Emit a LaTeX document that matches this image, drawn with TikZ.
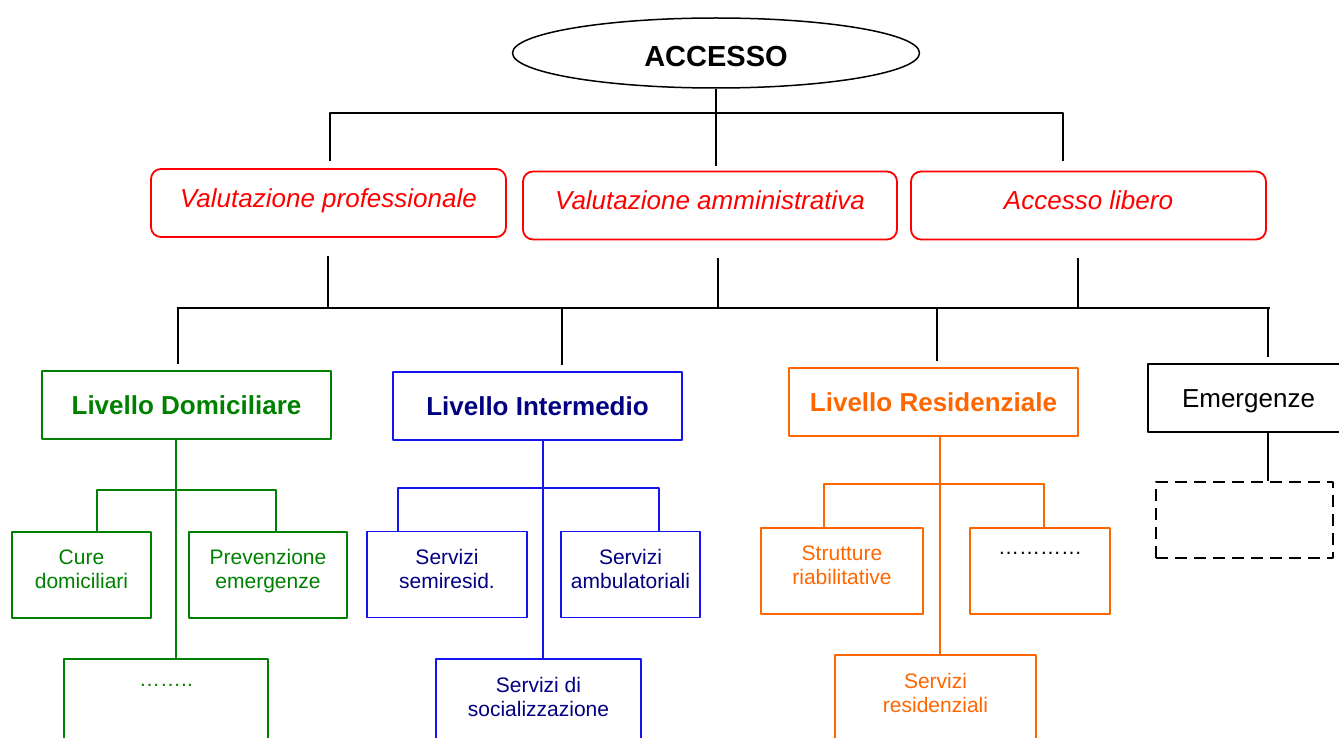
\documentclass[tikz,border=0pt]{standalone}
\usepackage{fontspec}
\setmainfont{Liberation Sans}
\usetikzlibrary{shapes.geometric}
\definecolor{vgreen}{RGB}{0,128,0}
\definecolor{vblue}{RGB}{20,20,240}
\definecolor{vnavy}{RGB}{0,0,128}
\definecolor{vorange}{RGB}{255,102,0}
\definecolor{vred}{RGB}{255,0,0}
\begin{document}
\begin{tikzpicture}[x=1pt,y=-1pt,line join=round,line width=1.5pt,
	valbox/.style={draw=vred,rounded corners=10pt,line width=1.8pt,text=vred,font=\fontsize{26}{30}\selectfont\itshape,minimum height=68pt,text height=19pt,text depth=10pt},
	lvlbox/.style={draw,line width=1.8pt,minimum width=289pt,minimum height=68pt,font=\fontsize{26}{30}\selectfont\bfseries},
	subbox/.style={draw,line width=1.8pt,font=\fontsize{21}{24}\selectfont,align=center,inner sep=0pt,minimum height=86pt}]
		\useasboundingbox (0,0) rectangle (1339,738);
		\clip (0,0) rectangle (1339,738);
		% accesso
		\node[ellipse,draw,minimum width=407pt,minimum height=70pt,inner sep=0pt,text height=27pt,font=\fontsize{29}{33}\selectfont\bfseries] (acc) at (716,53) {ACCESSO};
		\node[valbox,minimum width=355pt] (vp) at (328.5,203) {Valutazione professionale};
		\node[valbox,minimum width=374pt] (va) at (710,205.5) {Valutazione amministrativa};
		\node[valbox,minimum width=355pt] (al) at (1088.5,205.5) {Accesso libero};
		\draw (acc.south) -- ++(0,77);
		\draw[line width=2pt,shorten <=7pt,shorten >=10pt] (vp.north -| 330,0) |- (716,113) -| (al.north -| 1063,0);
		% livelli
		\node[lvlbox,draw=vgreen,text=vgreen] (ld) at (186.5,405) {Livello Domiciliare};
		\node[lvlbox,draw=vblue,text=vnavy] (li) at (537.5,406) {Livello Intermedio};
		\node[lvlbox,draw=vorange,text=vorange] (lr) at (933.5,402) {Livello Residenziale};
		\node[lvlbox,font=\fontsize{26}{30}\selectfont,text height=25pt,minimum width=201pt] (em) at (1248.5,398) {Emergenze};
		\foreach \n/\x in {vp/328,va/718,al/1078}\draw (\n.south -| \x,0) ++(0,18) -- (\x,308);
		\draw[line width=2pt] (177,308) -- (1270,308);
		\foreach \n/\x in {ld/178,li/562,lr/937,em/1268}\draw[shorten >=6pt] (\x,308) -- (\n.north -| \x,0);
		% domiciliare
		\node[subbox,draw=vgreen,text=vgreen,minimum width=139pt] (cd) at (81.5,575) {Cure\\domiciliari\\[-12pt]\mbox{}};
		\node[subbox,draw=vgreen,text=vgreen,minimum width=158pt] (pe) at (268,575) {Prevenzione\\emergenze\\[-12pt]\mbox{}};
		\node[subbox,draw=vgreen,text=vgreen,minimum width=204pt,minimum height=100pt,anchor=north] (gd) at (166,658) {……..\\\mbox{}\\\mbox{}};
		\draw[vgreen] (ld.south -| 176,0) -- (gd.north -| 176,0);
		\draw[vgreen] (cd.north -| 97,0) |- (276,490) -- (pe.north -| 276,0);
		% intermedio
		\node[subbox,draw=vblue,text=vnavy,minimum width=160pt] (ss) at (447,574.5) {Servizi\\semiresid.\\[-12pt]\mbox{}};
		\node[subbox,draw=vblue,text=vnavy,minimum width=139pt] (sa) at (630.5,574.5) {Servizi\\ambulatoriali\\[-12pt]\mbox{}};
		\node[subbox,draw=vblue,text=vnavy,minimum width=205pt,minimum height=100pt,anchor=north] (so) at (538.5,658) {Servizi di\\socializzazione\\\mbox{}};
		\draw[vblue] (li.south -| 543,0) -- (so.north -| 543,0);
		\draw[vblue] (ss.north -| 398,0) |- (659,488) -- (sa.north -| 659,0);
		% residenziale
		\node[subbox,draw=vorange,text=vorange,minimum width=162pt] (sr) at (842,571) {Strutture\\riabilitative\\[-12pt]\mbox{}};
		\node[subbox,draw=vorange,text=black,minimum width=140pt] (od) at (1040,571) {…………\\\mbox{}\\[-12pt]\mbox{}};
		\node[subbox,draw=vorange,text=vorange,minimum width=201pt,minimum height=100pt,anchor=north] (sres) at (935.5,654) {Servizi\\residenziali\\\mbox{}};
		\draw[vorange] (lr.south -| 940,0) -- (sres.north -| 940,0);
		\draw[vorange] (sr.north -| 824,0) |- (1044,484) -- (od.north -| 1044,0);
		% emergenze
		\node[draw,dashed,dash pattern=on 12pt off 7pt,minimum width=177pt,minimum height=76pt] (ed) at (1244.5,520) {};
		\draw (em.south -| 1268,0) -- (ed.north -| 1268,0);
\end{tikzpicture}
\end{document}
